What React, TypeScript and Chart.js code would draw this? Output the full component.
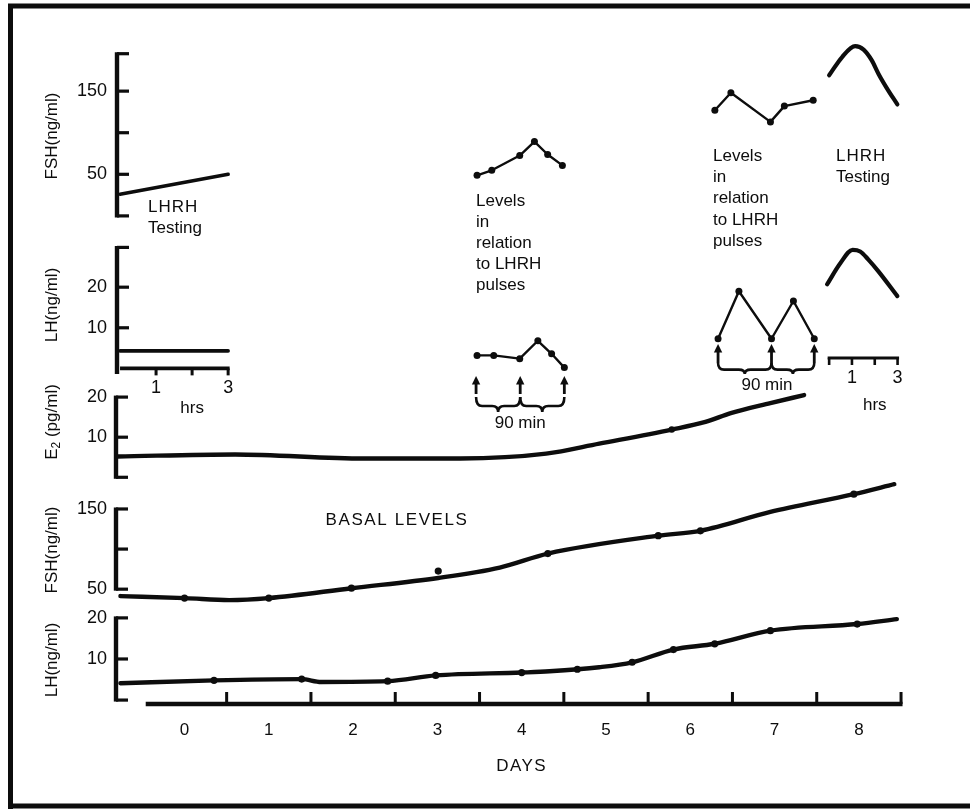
import React, { useEffect, useRef } from 'react';
import { Chart, registerables } from 'chart.js';

Chart.register(...registerables);

const W = 970;
const H = 812;

// ---------------- data ----------------
const dayLabels = [0, 1, 2, 3, 4, 5, 6, 7, 8];
const hrsLabels = [1, 3];
const pulseTimesMid = [0, 90, 180];
const pulseTimesRight = [0, 100, 180];

// LHRH testing (left inset), hrs
const fshTestLeftHrs = [0, 3];
const fshTestLeftVals = [26, 50];
const lhTestLeftHrs = [0, 3];
const lhTestLeftVals = [4.3, 4.3];

// LHRH testing (right inset), hrs
const fshTestRightHrs = [0, 0.57, 1.14, 1.51, 1.87, 2.16, 2.52, 2.99];
const fshTestRightVals = [169, 191, 204, 200, 187, 171, 154, 134];
const lhTestRightHrs = [-0.09, 0.49, 1.03, 1.36, 1.72, 2.16, 2.99];
const lhTestRightVals = [20.7, 25.9, 29.2, 28.8, 26.8, 23.9, 17.8];

// Levels in relation to LHRH pulses (middle), minutes
const fshPulseMidMin = [2, 32, 89, 119, 146, 176];
const fshPulseMidVals = [48.8, 54.8, 72.6, 89.3, 73.8, 60.7];
const lhPulseMidMin = [2, 36, 89, 126, 154, 180];
const lhPulseMidVals = [3.2, 3.2, 2.4, 6.8, 3.6, 0.2];

// Levels in relation to LHRH pulses (right), minutes
const fshPulseRightMin = [-6, 24, 98, 124, 178];
const fshPulseRightVals = [127, 148, 113, 132, 139];
const lhPulseRightMin = [0, 39, 100, 141, 180];
const lhPulseRightVals = [7.3, 19.0, 7.3, 16.6, 7.3];

// Basal levels, days
const e2Days = [-0.79, 0.6, 2.13, 3.27, 4.29, 4.92, 5.78, 6.18, 6.48, 6.95, 7.35];
const e2Vals = [5.2, 5.7, 4.7, 4.7, 5.9, 8.4, 11.9, 13.8, 16.0, 18.5, 20.5];
const e2DotDays = [5.78];
const e2DotVals = [11.9];

const fshDays = [-0.76, 0.01, 0.53, 1.0, 1.98, 3.01, 3.74, 4.31, 5.62, 6.12, 6.95, 7.94, 8.42];
const fshVals = [41.4, 38.9, 36.4, 38.9, 51.2, 64, 77, 94.4, 116.7, 122.8, 146.3, 168.5, 180.9];
const fshDotDays = [0, 1, 1.98, 3.01, 4.31, 5.62, 6.12, 7.94];
const fshDotVals = [38.9, 38.9, 51.2, 72.6, 94.4, 116.7, 122.8, 168.5];

const lhDays = [-0.76, 0.35, 1.39, 1.62, 2.41, 2.98, 4.0, 4.33, 4.92, 5.31, 5.8, 6.29, 6.95, 7.98, 8.45];
const lhVals = [4.1, 4.8, 5.1, 4.4, 4.6, 6.0, 6.7, 7.0, 8.0, 9.2, 12.3, 13.7, 16.9, 18.5, 19.7];
const lhDotDays = [0.35, 1.39, 2.41, 2.98, 4.0, 4.66, 5.31, 5.8, 6.29, 6.95, 7.98];
const lhDotVals = [4.8, 5.1, 4.6, 6.0, 6.7, 7.5, 9.2, 12.3, 13.7, 16.9, 18.5];

// ---------------- layout helpers ----------------
const INK = '#0d0d0d';
const FONT = '"Liberation Sans", Arial, Helvetica, sans-serif';

function xRange(v0: number, p0: number, v1: number, p1: number) {
  const k = (p1 - p0) / (v1 - v0);
  return { min: v0 - p0 / k, max: v1 + (W - p1) / k };
}
function yRange(v0: number, p0: number, v1: number, p1: number) {
  const k = (p0 - p1) / (v1 - v0);
  return { min: v0 - (H - p0) / k, max: v1 + p1 / k };
}
const hid = (axis: 'x' | 'y', r: { min: number; max: number }) => ({
  type: 'linear' as const,
  axis,
  display: false,
  min: r.min,
  max: r.max,
});

const pts = (xs: number[], ys: number[]) => xs.map((x, i) => ({ x, y: ys[i] }));

const lineDs = (xs: number[], ys: number[], xId: string, yId: string, w: number, smooth: number, dots = 0) => ({
  data: pts(xs, ys),
  xAxisID: xId,
  yAxisID: yId,
  borderColor: INK,
  backgroundColor: INK,
  borderWidth: w,
  pointRadius: dots,
  pointBackgroundColor: INK,
  pointBorderWidth: 0,
  tension: smooth,
  cubicInterpolationMode: smooth > 0 ? ('monotone' as const) : ('default' as const),
  fill: false,
  clip: false as any,
  borderCapStyle: 'round' as const,
  borderJoinStyle: 'round' as const,
});
const dotDs = (xs: number[], ys: number[], xId: string, yId: string, r: number) => ({
  data: pts(xs, ys),
  xAxisID: xId,
  yAxisID: yId,
  showLine: false,
  pointRadius: r,
  pointBackgroundColor: INK,
  pointBorderWidth: 0,
  borderColor: INK,
  clip: false as any,
});

const yAxes = [
  { id: 'yFshI', x: 117, top: 195, bottom: 0, ticks: [150, 100, 50], labels: [150, 50], bottomStub: true },
  { id: 'yLhI', x: 117, top: 29.8, bottom: -1, ticks: [20, 10], labels: [20, 10], bottomStub: false },
  { id: 'yE2', x: 116, top: 20, bottom: 0, ticks: [10], labels: [20, 10], bottomStub: true },
  { id: 'yFsh', x: 116, top: 150, bottom: 50, ticks: [100], labels: [150, 50], bottomStub: true },
  { id: 'yLh', x: 116, top: 20, bottom: 0, ticks: [10], labels: [20, 10], bottomStub: true },
];

function seg(ctx: CanvasRenderingContext2D, x1: number, y1: number, x2: number, y2: number, w: number) {
  ctx.lineWidth = w;
  ctx.beginPath();
  ctx.moveTo(x1, y1);
  ctx.lineTo(x2, y2);
  ctx.stroke();
}

function arrow(ctx: CanvasRenderingContext2D, x: number, yTip: number, yBase: number) {
  seg(ctx, x, yBase, x, yTip + 5, 2.8);
  ctx.beginPath();
  ctx.moveTo(x, yTip);
  ctx.lineTo(x - 4.2, yTip + 8.5);
  ctx.lineTo(x + 4.2, yTip + 8.5);
  ctx.closePath();
  ctx.fill();
}

function brace(ctx: CanvasRenderingContext2D, x1: number, x2: number, yTop: number, depth: number) {
  const mid = (x1 + x2) / 2;
  const yl = yTop + depth * 0.6;
  const yc = yTop + depth;
  const r = Math.min(6, (x2 - x1) / 6);
  ctx.lineWidth = 2.6;
  ctx.beginPath();
  ctx.moveTo(x1, yTop);
  ctx.quadraticCurveTo(x1, yl, x1 + r, yl);
  ctx.lineTo(mid - r, yl);
  ctx.quadraticCurveTo(mid, yl, mid, yc);
  ctx.quadraticCurveTo(mid, yl, mid + r, yl);
  ctx.lineTo(x2 - r, yl);
  ctx.quadraticCurveTo(x2, yl, x2, yTop);
  ctx.stroke();
}

function text(ctx: CanvasRenderingContext2D, s: string, x: number, y: number, size: number, align: CanvasTextAlign = 'left', spacing = 0) {
  ctx.font = `${size}px ${FONT}`;
  ctx.textAlign = align;
  ctx.textBaseline = 'middle';
  (ctx as any).letterSpacing = `${spacing}px`;
  ctx.fillText(s, x, y);
  (ctx as any).letterSpacing = '0px';
}

function vtitle(ctx: CanvasRenderingContext2D, s: string, cx: number, cy: number, size: number) {
  ctx.save();
  ctx.translate(cx, cy);
  ctx.rotate(-Math.PI / 2);
  text(ctx, s, 0, 0, size, 'center');
  ctx.restore();
}

function vtitleE2(ctx: CanvasRenderingContext2D, cx: number, cy: number, size: number) {
  ctx.save();
  ctx.translate(cx, cy);
  ctx.rotate(-Math.PI / 2);
  ctx.textBaseline = 'middle';
  ctx.textAlign = 'left';
  const big = `${size}px ${FONT}`;
  const small = `${Math.round(size * 0.72)}px ${FONT}`;
  ctx.font = big;
  const wE = ctx.measureText('E').width;
  const wRest = ctx.measureText(' (pg/ml)').width;
  ctx.font = small;
  const w2 = ctx.measureText('2').width;
  let x = -(wE + w2 + wRest) / 2;
  ctx.font = big;
  ctx.fillText('E', x, 0);
  x += wE;
  ctx.font = small;
  ctx.fillText('2', x, 5);
  x += w2;
  ctx.font = big;
  ctx.fillText(' (pg/ml)', x, 0);
  ctx.restore();
}

const decor = {
  id: 'decor',
  afterDraw(chart: any) {
    const ctx: CanvasRenderingContext2D = chart.ctx;
    const s = chart.scales;
    ctx.save();
    ctx.strokeStyle = INK;
    ctx.fillStyle = INK;
    ctx.lineCap = 'butt';

    // frame
    seg(ctx, 8, 6, W, 6, 5);
    seg(ctx, 10.5, 4, 10.5, 809, 5);
    seg(ctx, 8, 806, W, 806, 5);

    // y axes
    for (const ax of yAxes) {
      const sc = s[ax.id];
      const yt = sc.getPixelForValue(ax.top);
      const yb = sc.getPixelForValue(ax.bottom);
      seg(ctx, ax.x, yt - 1.5, ax.x, yb + 1.5, 4.4);
      const stubs = [ax.top, ...ax.ticks];
      if (ax.bottomStub) stubs.push(ax.bottom);
      for (const t of stubs) {
        const y = sc.getPixelForValue(t);
        seg(ctx, ax.x, y, ax.x + 12, y, 3.2);
      }
      for (const l of ax.labels) {
        text(ctx, String(l), 107, sc.getPixelForValue(l), 18, 'right');
      }
    }

    // left inset hrs axis
    {
      const xs = s.xHrsL;
      const y = s.yLhI.getPixelForValue(0);
      seg(ctx, xs.getPixelForValue(0), y, xs.getPixelForValue(3) + 1.5, y, 3.6);
      for (const h of [1, 2, 3]) seg(ctx, xs.getPixelForValue(h), y, xs.getPixelForValue(h), y + 7, 3);
      for (const h of hrsLabels) text(ctx, String(h), xs.getPixelForValue(h), 388, 18, 'center');
      text(ctx, 'hrs', xs.getPixelForValue(2), 408, 17, 'center');
    }
    // right inset hrs axis
    {
      const xs = s.xHrsR;
      const y = 358;
      seg(ctx, xs.getPixelForValue(0) - 1.5, y, xs.getPixelForValue(3) + 1.5, y, 3);
      for (const h of [0, 1, 2, 3]) seg(ctx, xs.getPixelForValue(h), y, xs.getPixelForValue(h), y + 7, 2.6);
      for (const h of hrsLabels) text(ctx, String(h), xs.getPixelForValue(h), 378, 18, 'center');
      text(ctx, 'hrs', xs.getPixelForValue(2), 405, 17, 'center');
    }

    // days axis
    {
      const xs = s.xDays;
      const y = 704;
      seg(ctx, xs.getPixelForValue(-0.46), y, xs.getPixelForValue(8.5) + 1.5, y, 4.6);
      for (let d = 0.5; d <= 8.5; d += 1) {
        const x = xs.getPixelForValue(d);
        seg(ctx, x, y, x, y - 12, 3);
      }
      for (const d of dayLabels) text(ctx, String(d), xs.getPixelForValue(d), 730, 17, 'center');
      text(ctx, 'DAYS', xs.getPixelForValue(4), 766, 17, 'center', 1.5);
    }

    // pulse arrows and braces
    {
      const xm = s.xPulM;
      const px = pulseTimesMid.map((t) => xm.getPixelForValue(t));
      px.forEach((x) => arrow(ctx, x, 376, 394));
      for (let i = 0; i < px.length - 1; i++) brace(ctx, px[i], px[i + 1], 397, 15);
      text(ctx, '90 min', (px[0] + px[2]) / 2, 423, 17, 'center');

      const xr = s.xPulR;
      const pr = pulseTimesRight.map((t) => xr.getPixelForValue(t));
      pr.forEach((x) => arrow(ctx, x, 344, 363));
      for (let i = 0; i < pr.length - 1; i++) brace(ctx, pr[i], pr[i + 1], 363, 11);
      text(ctx, '90 min', 767, 385, 17, 'center');
    }

    // annotations
    text(ctx, 'LHRH', 148, 207, 17, 'left', 1);
    text(ctx, 'Testing', 148, 228, 17);
    text(ctx, 'LHRH', 836, 156, 17, 'left', 1);
    text(ctx, 'Testing', 836, 177, 17);
    const lv = ['Levels', 'in', 'relation', 'to LHRH', 'pulses'];
    lv.forEach((l, i) => text(ctx, l, 476, 201 + i * 21, 17));
    lv.forEach((l, i) => text(ctx, l, 713, 156 + i * 21.3, 17));
    text(ctx, 'BASAL LEVELS', 397, 520, 17, 'center', 1.6);

    // axis titles
    vtitle(ctx, 'FSH(ng/ml)', 52, 136, 17);
    vtitle(ctx, 'LH(ng/ml)', 52, 305, 17);
    vtitleE2(ctx, 52, 422, 17);
    vtitle(ctx, 'FSH(ng/ml)', 52, 550, 17);
    vtitle(ctx, 'LH(ng/ml)', 52, 660, 17);

    ctx.restore();
  },
};

export default function App() {
  const ref = useRef<HTMLCanvasElement>(null);

  useEffect(() => {
    if (!ref.current) return;
    const datasets: any[] = [
      lineDs(fshTestLeftHrs, fshTestLeftVals, 'xHrsL', 'yFshI', 3.6, 0),
      lineDs(lhTestLeftHrs, lhTestLeftVals, 'xHrsL', 'yLhI', 3.6, 0),
      lineDs(fshTestRightHrs, fshTestRightVals, 'xHrsR', 'yFshI', 4.2, 0.4),
      lineDs(lhTestRightHrs, lhTestRightVals, 'xHrsR', 'yLhI', 4.2, 0.4),
      lineDs(fshPulseMidMin, fshPulseMidVals, 'xPulM', 'yFshI', 2.4, 0, 3.5),
      lineDs(lhPulseMidMin, lhPulseMidVals, 'xPulM', 'yLhI', 2.4, 0, 3.5),
      lineDs(fshPulseRightMin, fshPulseRightVals, 'xPulR', 'yFshI', 2.4, 0, 3.5),
      lineDs(lhPulseRightMin, lhPulseRightVals, 'xPulR', 'yLhI', 2.4, 0, 3.5),
      lineDs(e2Days, e2Vals, 'xDays', 'yE2', 4.4, 0.4),
      dotDs(e2DotDays, e2DotVals, 'xDays', 'yE2', 3.2),
      lineDs(fshDays, fshVals, 'xDays', 'yFsh', 4.4, 0.4),
      dotDs(fshDotDays, fshDotVals, 'xDays', 'yFsh', 3.6),
      lineDs(lhDays, lhVals, 'xDays', 'yLh', 4.4, 0.4),
      dotDs(lhDotDays, lhDotVals, 'xDays', 'yLh', 3.6),
    ];
    const chart = new Chart(ref.current, {
      type: 'line',
      data: { datasets },
      options: {
        responsive: false,
        animation: false,
        devicePixelRatio: 1,
        events: [],
        layout: { padding: 0 },
        plugins: { legend: { display: false }, tooltip: { enabled: false }, title: { display: false } },
        scales: {
          x: { type: 'linear', display: false },
          y: { type: 'linear', display: false },
          xDays: hid('x', xRange(0, 182, 8, 862)),
          xHrsL: hid('x', xRange(0, 117, 3, 226)),
          xHrsR: hid('x', xRange(0, 832, 3, 901)),
          xPulM: hid('x', xRange(0, 476, 180, 565)),
          xPulR: hid('x', xRange(0, 720, 180, 817)),
          yFshI: hid('y', yRange(0, 214, 150, 88)),
          yLhI: hid('y', yRange(0, 368, 20, 286)),
          yE2: hid('y', yRange(0, 478, 20, 397)),
          yFsh: hid('y', yRange(50, 591, 150, 510)),
          yLh: hid('y', yRange(0, 703, 20, 620)),
        } as any,
      },
      plugins: [decor],
    });
    return () => chart.destroy();
  }, []);

  return (
    <div style={{ position: 'fixed', left: 0, top: 0, width: W, height: H, background: '#fff' }}>
      <canvas ref={ref} width={W} height={H} style={{ width: W, height: H, display: 'block' }} />
    </div>
  );
}
